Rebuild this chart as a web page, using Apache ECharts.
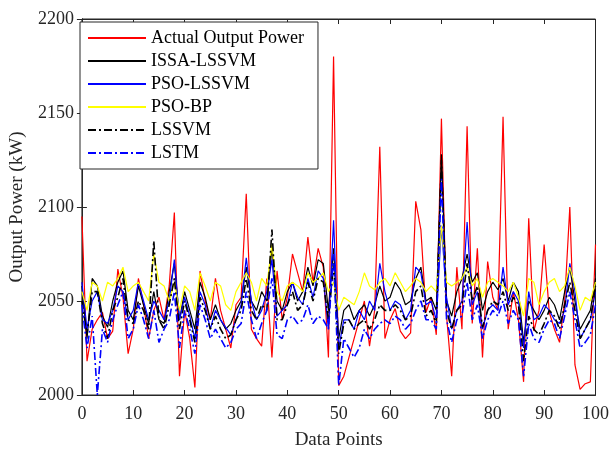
<!DOCTYPE html>
<html><head><meta charset="utf-8">
<script src="https://cdn.jsdelivr.net/npm/echarts@6/dist/echarts.min.js"></script>
<style>html,body{margin:0;padding:0;background:#fff}#c{width:612px;height:455px}</style>
</head><body><div id="c"></div>
<script>
const xTicks = [0,10,20,30,40,50,60,70,80,90,100];
const seriesNames = ['Actual Output Power','ISSA-LSSVM','PSO-LSSVM','PSO-BP','LSSVM','LSTM'];
const actual = [2095,2018,2035,2040,2044,2030,2034,2067,2052,2022,2035,2062,2048,2030,2045,2052,2040,2058,2097,2010,2045,2030,2004,2066,2050,2040,2062,2045,2035,2025,2048,2052,2107,2035,2030,2026,2062,2020,2066,2040,2052,2075,2065,2055,2084,2060,2078,2068,2020,2180,2005,2010,2020,2030,2040,2050,2026,2045,2132,2030,2040,2046,2034,2030,2033,2103,2088,2044,2052,2032,2147,2042,2010,2068,2035,2143,2038,2078,2020,2071,2052,2045,2148,2035,2055,2040,2007,2094,2034,2045,2080,2044,2035,2028,2050,2100,2016,2003,2006,2007,2080];
const issa = [2058,2030,2062,2058,2042,2036,2050,2060,2066,2045,2040,2058,2048,2038,2055,2040,2038,2055,2070,2040,2055,2045,2035,2060,2052,2040,2048,2040,2035,2038,2045,2050,2068,2050,2045,2055,2050,2078,2050,2045,2055,2060,2050,2055,2068,2058,2072,2070,2045,2078,2030,2045,2048,2040,2045,2048,2042,2048,2058,2050,2052,2060,2056,2048,2050,2062,2068,2050,2052,2045,2128,2050,2042,2055,2062,2075,2060,2065,2045,2055,2060,2056,2062,2050,2060,2055,2028,2050,2045,2040,2045,2052,2048,2040,2055,2068,2050,2035,2040,2045,2062];
const psoLssvm = [2060,2035,2050,2055,2040,2038,2045,2058,2055,2040,2045,2060,2050,2040,2050,2045,2040,2050,2072,2040,2052,2042,2030,2055,2048,2035,2045,2040,2036,2032,2040,2048,2073,2050,2040,2045,2055,2072,2042,2045,2048,2060,2052,2048,2062,2052,2066,2062,2035,2093,2025,2040,2040,2035,2045,2040,2050,2045,2070,2055,2045,2050,2048,2040,2045,2068,2065,2048,2050,2040,2090,2052,2035,2045,2050,2092,2048,2055,2035,2045,2048,2045,2068,2048,2055,2050,2025,2055,2040,2042,2048,2045,2040,2038,2045,2070,2055,2030,2035,2040,2055];
const psoBp = [2055,2045,2060,2058,2050,2060,2058,2062,2068,2055,2058,2060,2055,2050,2075,2060,2058,2050,2060,2045,2058,2055,2045,2065,2058,2050,2060,2058,2048,2045,2055,2060,2065,2060,2050,2062,2058,2080,2055,2050,2058,2060,2058,2055,2065,2060,2062,2065,2055,2060,2045,2052,2050,2048,2055,2065,2058,2056,2060,2062,2058,2065,2060,2055,2058,2062,2060,2055,2058,2055,2090,2060,2058,2060,2062,2068,2058,2062,2052,2060,2062,2060,2058,2055,2060,2052,2042,2062,2060,2048,2055,2060,2062,2055,2058,2068,2058,2045,2052,2050,2060];
const lssvm = [2050,2032,2055,2055,2038,2030,2045,2052,2062,2040,2038,2050,2045,2035,2082,2040,2035,2048,2062,2035,2050,2040,2028,2052,2045,2035,2042,2035,2030,2032,2040,2045,2062,2045,2040,2048,2045,2088,2040,2040,2048,2055,2045,2048,2060,2050,2062,2060,2040,2070,2022,2038,2040,2035,2038,2040,2035,2040,2048,2045,2045,2048,2045,2040,2042,2055,2058,2042,2045,2038,2125,2045,2035,2045,2048,2070,2050,2058,2036,2045,2050,2048,2055,2045,2052,2048,2018,2042,2035,2032,2038,2045,2042,2035,2048,2060,2045,2030,2035,2040,2058];
const lstm = [2048,2025,2042,2000,2035,2028,2040,2048,2055,2030,2035,2048,2040,2030,2045,2028,2035,2040,2055,2025,2045,2035,2022,2048,2040,2030,2035,2030,2025,2028,2035,2038,2055,2040,2030,2038,2045,2062,2032,2030,2040,2042,2038,2040,2048,2038,2042,2040,2035,2075,2005,2030,2025,2020,2025,2035,2030,2035,2038,2040,2038,2042,2040,2035,2038,2045,2050,2040,2040,2035,2115,2040,2028,2040,2042,2060,2040,2048,2030,2040,2045,2042,2050,2038,2045,2040,2010,2038,2030,2028,2035,2040,2038,2030,2042,2055,2040,2025,2028,2032,2048];
const allData = [actual, issa, psoLssvm, psoBp, lssvm, lstm];
const colors = ['#ff0000','#000000','#0000ff','#ffff00','#000000','#0000ff'];
const types = ['solid','solid','solid','solid',[8,3,2,3],[8,3,2,3]];

const font = 'Liberation Serif';
const chart = echarts.init(document.getElementById('c'));
const series = allData.map((d, k) => ({
  name: seriesNames[k], type: 'line', symbol: 'none', silent: true,
  data: d.map((v, i) => [i, v]),
  lineStyle: { color: colors[k], width: k >= 4 ? 1.6 : 1.2, type: types[k] },
  itemStyle: { color: colors[k] }
}));
const tickCommon = { inside: true, length: 5, lineStyle: { color: '#262626' } };
chart.setOption({
  animation: false,
  backgroundColor: '#fff',
  grid: { left: 77, right: 13, top: 19, bottom: 54, show: true, borderColor: '#262626', borderWidth: 1 },
  legend: {
    left: 80, top: 22, orient: 'vertical', itemGap: 5, itemWidth: 58, itemHeight: 14, itemTextGap: 6,
    padding: [7, 14, 7, 7], borderColor: '#262626', borderWidth: 1, backgroundColor: '#fff',
    itemStyle: { opacity: 0 },
    textStyle: { fontFamily: font, fontSize: 18, color: '#000' },
    data: seriesNames
  },
  xAxis: [{
    type: 'value', min: 0, max: 100, interval: 10,
    name: 'Data Points', nameLocation: 'middle', nameGap: 36,
    nameTextStyle: { fontFamily: font, fontSize: 19, color: '#262626' },
    axisLine: { lineStyle: { color: '#262626' } }, axisTick: tickCommon,
    axisLabel: { fontFamily: font, fontSize: 18, color: '#262626', margin: 10 },
    splitLine: { show: false }
  }, {
    type: 'value', min: 0, max: 100, interval: 10, position: 'top',
    axisLine: { show: true, lineStyle: { color: '#262626' } }, axisTick: tickCommon,
    axisLabel: { show: false }, splitLine: { show: false }
  }],
  yAxis: [{
    type: 'value', min: 2000, max: 2200, interval: 50,
    name: 'Output Power (kW)', nameLocation: 'middle', nameGap: 51,
    nameTextStyle: { fontFamily: font, fontSize: 19, color: '#262626' },
    axisLine: { show: true, lineStyle: { color: '#262626' } }, axisTick: tickCommon,
    axisLabel: { fontFamily: font, fontSize: 18, color: '#262626', margin: 8, formatter: v => String(v) },
    splitLine: { show: false }
  }, {
    type: 'value', min: 2000, max: 2200, interval: 50, position: 'right',
    axisLine: { show: true, lineStyle: { color: '#262626' } }, axisTick: tickCommon,
    axisLabel: { show: false }, splitLine: { show: false }
  }],
  series: series
});
</script></body></html>
